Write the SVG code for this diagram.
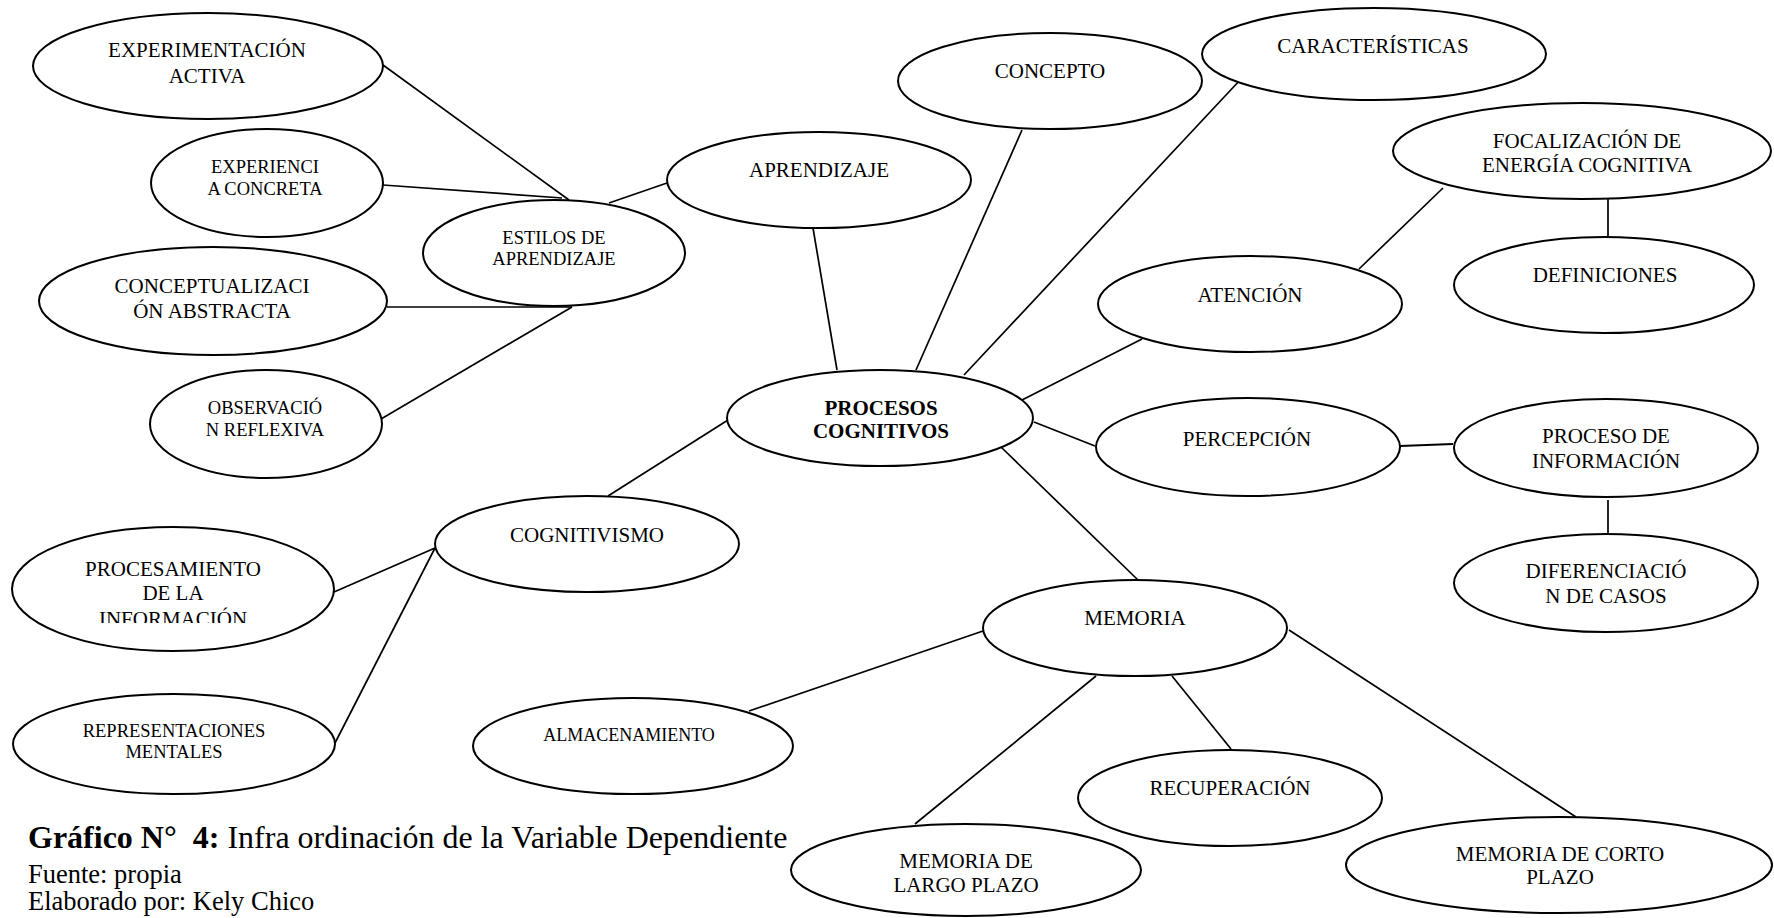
<svg xmlns="http://www.w3.org/2000/svg" width="1774" height="918" viewBox="0 0 1774 918" font-family="'Liberation Serif', 'DejaVu Serif', 'Times New Roman', Times, serif">
<style>
.n ellipse{fill:#fff;stroke:#000;stroke-width:2}
.c line{stroke:#000;stroke-width:1.7}
text{fill:#000;text-anchor:middle;font-size:21px}
.s{font-size:18.5px}
.b{font-weight:bold}
.cap{text-anchor:start;white-space:pre}
</style>
<defs>
<clipPath id="clipProc"><rect x="0" y="520" width="360" height="103"/></clipPath>
</defs>
<rect width="1774" height="918" fill="#fff"/>
<g id="connectors" class="c">
<line x1="383" y1="65" x2="569" y2="200"/>
<line x1="383" y1="185" x2="562" y2="198"/>
<line x1="609" y1="203" x2="667" y2="183"/>
<line x1="387" y1="307" x2="572" y2="307"/>
<line x1="381" y1="419" x2="572" y2="307"/>
<line x1="608" y1="496" x2="728" y2="420"/>
<line x1="334" y1="592" x2="435" y2="548"/>
<line x1="335" y1="743" x2="435" y2="548"/>
<line x1="813" y1="228" x2="837" y2="370"/>
<line x1="1022" y1="130" x2="916" y2="370"/>
<line x1="1241" y1="79" x2="964" y2="375"/>
<line x1="1443" y1="188" x2="1359" y2="269"/>
<line x1="1608" y1="198" x2="1608" y2="237"/>
<line x1="1142" y1="339" x2="1022" y2="400"/>
<line x1="1034" y1="422" x2="1095" y2="446"/>
<line x1="1400" y1="446" x2="1453" y2="444" style="stroke-width:2.2"/>
<line x1="1608" y1="500" x2="1608" y2="534"/>
<line x1="1001" y1="447" x2="1138" y2="580"/>
<line x1="983" y1="631" x2="749" y2="711"/>
<line x1="1096" y1="676" x2="915" y2="824"/>
<line x1="1172" y1="676" x2="1231" y2="749"/>
<line x1="1289" y1="630" x2="1576" y2="817"/>
</g>
<g id="experimentacion" class="n"><ellipse cx="208" cy="66" rx="175" ry="53"/><text x="207" y="57">EXPERIMENTACIÓN</text><text x="207" y="83">ACTIVA</text></g>
<g id="experiencia" class="n"><ellipse cx="267" cy="183" rx="116" ry="54"/><text class="s" x="265" y="173">EXPERIENCI</text><text class="s" x="265" y="195">A CONCRETA</text></g>
<g id="estilos" class="n"><ellipse cx="554" cy="253" rx="131" ry="53"/><text class="s" x="554" y="244">ESTILOS DE</text><text class="s" x="554" y="265">APRENDIZAJE</text></g>
<g id="conceptualizacion" class="n"><ellipse cx="213" cy="301" rx="174" ry="54"/><text x="212" y="293">CONCEPTUALIZACI</text><text x="212" y="318">ÓN ABSTRACTA</text></g>
<g id="observacion" class="n"><ellipse cx="266" cy="424" rx="116" ry="54"/><text class="s" x="265" y="414">OBSERVACIÓ</text><text class="s" x="265" y="436">N REFLEXIVA</text></g>
<g id="cognitivismo" class="n"><ellipse cx="587" cy="544" rx="152" ry="48"/><text x="587" y="542">COGNITIVISMO</text></g>
<g id="procesamiento" class="n"><ellipse cx="173" cy="589" rx="161" ry="62"/><g clip-path="url(#clipProc)"><text x="173" y="576">PROCESAMIENTO</text><text x="173" y="600">DE LA</text><text x="173" y="626">INFORMACIÓN</text></g></g>
<g id="representaciones" class="n"><ellipse cx="174" cy="744" rx="161" ry="50"/><text class="s" x="174" y="737">REPRESENTACIONES</text><text class="s" x="174" y="758">MENTALES</text></g>
<g id="almacenamiento" class="n"><ellipse cx="633" cy="746" rx="160" ry="48"/><text class="s" x="629" y="741" style="font-size:18px">ALMACENAMIENTO</text></g>
<g id="aprendizaje" class="n"><ellipse cx="819" cy="180" rx="152" ry="48"/><text x="819" y="177">APRENDIZAJE</text></g>
<g id="concepto" class="n"><ellipse cx="1050" cy="81" rx="152" ry="48"/><text x="1050" y="78">CONCEPTO</text></g>
<g id="caracteristicas" class="n"><ellipse cx="1374" cy="54" rx="172" ry="46"/><text x="1373" y="53">CARACTERÍSTICAS</text></g>
<g id="focalizacion" class="n"><ellipse cx="1582" cy="151" rx="189" ry="48"/><text x="1587" y="148">FOCALIZACIÓN DE</text><text x="1587" y="172">ENERGÍA COGNITIVA</text></g>
<g id="definiciones" class="n"><ellipse cx="1604" cy="285" rx="150" ry="48"/><text x="1605" y="282">DEFINICIONES</text></g>
<g id="atencion" class="n"><ellipse cx="1250" cy="304" rx="152" ry="48"/><text x="1250" y="302">ATENCIÓN</text></g>
<g id="procesos" class="n"><ellipse cx="880" cy="418" rx="153" ry="48"/><text class="b" x="881" y="415">PROCESOS</text><text class="b" x="881" y="438">COGNITIVOS</text></g>
<g id="percepcion" class="n"><ellipse cx="1248" cy="447" rx="152" ry="49"/><text x="1247" y="446">PERCEPCIÓN</text></g>
<g id="proceso-informacion" class="n"><ellipse cx="1606" cy="448" rx="152" ry="49"/><text x="1606" y="443">PROCESO DE</text><text x="1606" y="468">INFORMACIÓN</text></g>
<g id="diferenciacion" class="n"><ellipse cx="1606" cy="583" rx="152" ry="49"/><text x="1606" y="578">DIFERENCIACIÓ</text><text x="1606" y="603">N DE CASOS</text></g>
<g id="memoria" class="n"><ellipse cx="1135" cy="628" rx="152" ry="48"/><text x="1135" y="625">MEMORIA</text></g>
<g id="recuperacion" class="n"><ellipse cx="1230" cy="798" rx="152" ry="48"/><text x="1230" y="795">RECUPERACIÓN</text></g>
<g id="largo-plazo" class="n"><ellipse cx="966" cy="870" rx="175" ry="46"/><text x="966" y="868">MEMORIA DE</text><text x="966" y="892">LARGO PLAZO</text></g>
<g id="corto-plazo" class="n"><ellipse cx="1559" cy="865" rx="213" ry="48"/><text x="1560" y="861">MEMORIA DE CORTO</text><text x="1560" y="884">PLAZO</text></g>
<g id="caption">
<text class="cap" x="28" y="848" style="font-size:32px" xml:space="preserve"><tspan font-weight="bold">Gráfico N°  4:</tspan> Infra ordinación de la Variable Dependiente</text>
<text class="cap" x="28" y="883" style="font-size:26.5px">Fuente: propia</text>
<text class="cap" x="28" y="910" style="font-size:26.5px">Elaborado por: Kely Chico</text>
</g>
</svg>
